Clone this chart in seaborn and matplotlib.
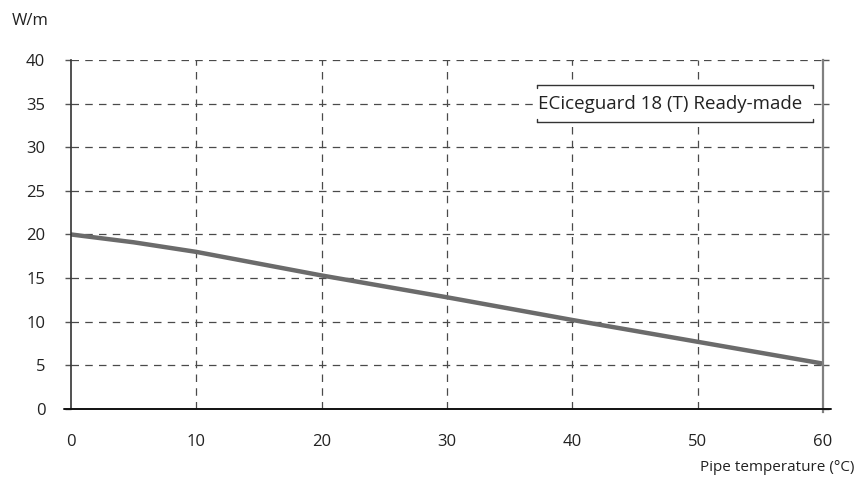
import matplotlib
matplotlib.use("Agg")
import matplotlib.pyplot as plt
import seaborn as sns
import pandas as pd
from matplotlib.patches import Rectangle

# values
pipe_temp = [0, 5, 10, 20, 30, 40, 50, 60]
power_wm = [20.0, 19.1, 18.0, 15.3, 12.8, 10.2, 7.7, 5.2]
series_name = "ECiceguard 18 (T) Ready-made"
x_ticks = [0, 10, 20, 30, 40, 50, 60]
y_ticks = [0, 5, 10, 15, 20, 25, 30, 35, 40]

df = pd.DataFrame({"temp": pipe_temp, "power": power_wm})

sns.set_style("white")
plt.rcParams["font.family"] = ["Open Sans", "DejaVu Sans"]

fig = plt.figure(figsize=(8.6, 4.91), dpi=100)
ax = fig.add_axes([0.0826, 0.167, 0.8744, 0.711])

sns.lineplot(data=df, x="temp", y="power", color="#6b6b6b", linewidth=3.2, ax=ax, zorder=4)

ax.set_xlim(0, 60)
ax.set_ylim(0, 40)
ax.set_xticks(x_ticks)
ax.set_yticks(y_ticks)

# dashed grid, none on the frame edges
ax.grid(True, linestyle=(0, (6, 5)), color="#4a4a4a", linewidth=0.9)
ax.get_xgridlines()[0].set_visible(False)
ax.get_xgridlines()[-1].set_visible(False)
ax.get_ygridlines()[0].set_visible(False)

for side in ["top", "bottom"]:
    ax.spines[side].set_visible(False)
ax.spines["left"].set_color("#333333")
ax.spines["left"].set_linewidth(1.2)
ax.spines["left"].set_zorder(6)
ax.spines["right"].set_color("#808080")
ax.spines["right"].set_linewidth(1.6)
ax.spines["right"].set_zorder(6)
ax.spines["right"].set_bounds(-0.4, 40)

# x axis line runs a little past both ends
ax.axhline(0, xmin=-0.01, xmax=1.01, color="#111111", linewidth=1.4, clip_on=False, zorder=7)

ax.yaxis.set_ticks_position("both")
ax.tick_params(axis="y", which="both", direction="out", length=4.5, width=1,
               color="#555555", pad=14, labelsize=12, labelcolor="#222222")
ax.tick_params(axis="y", left=True, right=True, labelright=False)
ax.tick_params(axis="x", direction="inout", length=4, width=1, color="#555555",
               pad=16, labelsize=12, labelcolor="#222222")
ax.set_xlabel("")
ax.set_ylabel("")

fig.text(0.014, 0.958, "W/m", fontsize=12, color="#222222", va="center", ha="left")
fig.text(0.994, 0.047, "Pipe temperature (°C)", fontsize=11, color="#222222",
         va="center", ha="right")

# legend box: white background with top and bottom rules
x0, x1, y0, y1 = 0.62, 0.987, 0.822, 0.928
ax.add_patch(Rectangle((x0, y0), x1 - x0, y1 - y0, transform=ax.transAxes,
                       facecolor="white", edgecolor="none", zorder=3))
for yy in (y0, y1):
    ax.plot([x0, x1], [yy, yy], transform=ax.transAxes, color="#333333",
            linewidth=1, zorder=3)
    d = 0.008 if yy == y1 else -0.008
    for xx in (x0, x1):
        ax.plot([xx, xx], [yy, yy - d], transform=ax.transAxes, color="#333333",
                linewidth=1, zorder=3)
ax.text(x0 + 0.001, (y0 + y1) / 2, series_name, transform=ax.transAxes,
        fontsize=13.5, color="#222222", va="center", ha="left", zorder=4)

fig.savefig("out.png", dpi=100)
